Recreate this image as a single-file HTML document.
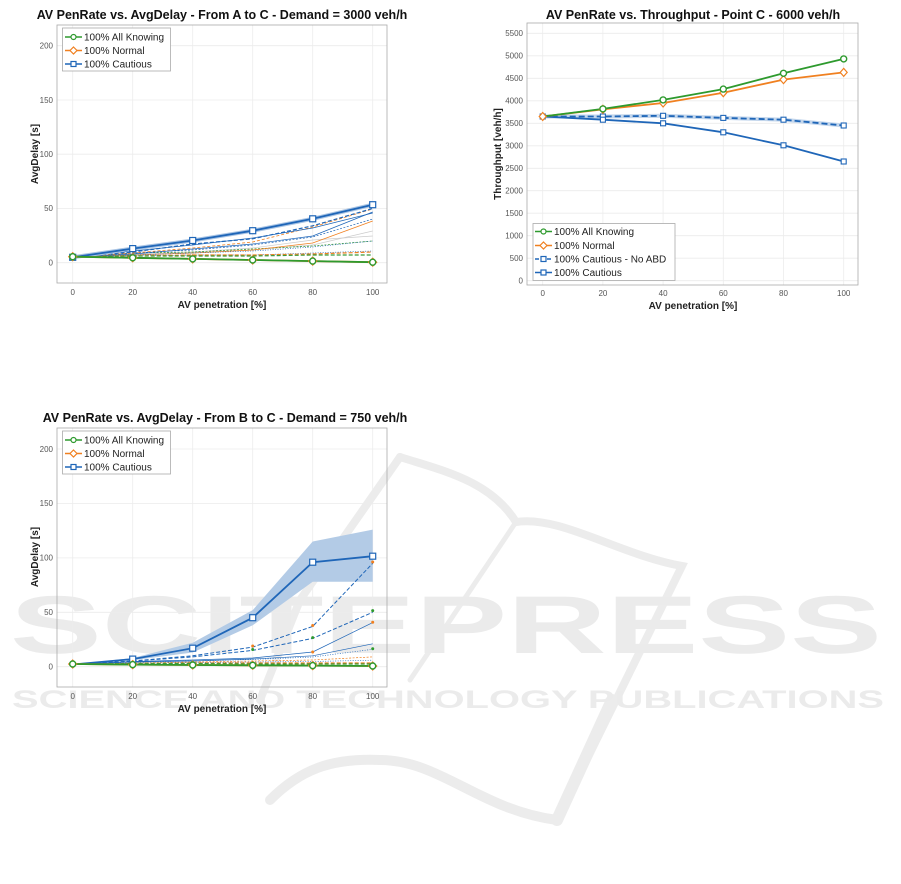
<!DOCTYPE html>
<html><head><meta charset="utf-8"><style>
html,body{margin:0;padding:0;background:#fff;width:901px;height:884px;overflow:hidden}
svg{display:block;font-family:"Liberation Sans",Arial,sans-serif}
.t{font-size:12.5px;font-weight:bold;fill:#111}
.tk{font-size:8px;fill:#555}
.al{font-size:10px;font-weight:bold;fill:#222}
.lg{font-size:10px;fill:#222}
.g{stroke:#ececec;stroke-width:0.8}
.wm{font-family:"Liberation Sans",sans-serif;font-weight:bold}
</style></head><body>
<svg width="901" height="884" viewBox="0 0 901 884">
<g fill="none" stroke="#ececec" stroke-linecap="round">
<path d="M400 457 C440 470 490 480 516 522 C560 515 620 555 682 566 L557 820" stroke-width="8"/>
<path d="M516 522 L410 680" stroke-width="5"/>
<path d="M400 457 L300 600 L260 700" stroke-width="8"/>
<path d="M557 820 C480 810 440 760 380 760 C330 758 300 770 270 800" stroke-width="10"/>
<path d="M612 700 L557 820" stroke-width="12"/>
</g>
<g fill="#ebebeb" class="wm">
<text class="wm" x="10" y="653" font-size="82" textLength="872" lengthAdjust="spacingAndGlyphs">SCITEPRESS</text>
<text class="wm" x="12" y="708" font-size="25" textLength="872" lengthAdjust="spacingAndGlyphs">SCIENCE AND TECHNOLOGY PUBLICATIONS</text>
</g>

<text class="t" x="222" y="19" text-anchor="middle">AV PenRate vs. AvgDelay - From A to C - Demand = 3000 veh/h</text>
<g class="g">
<line x1="72.7" y1="25" x2="72.7" y2="283"/><line x1="132.7" y1="25" x2="132.7" y2="283"/><line x1="192.7" y1="25" x2="192.7" y2="283"/><line x1="252.7" y1="25" x2="252.7" y2="283"/><line x1="312.7" y1="25" x2="312.7" y2="283"/><line x1="372.7" y1="25" x2="372.7" y2="283"/>
<line x1="57" y1="262.7" x2="387" y2="262.7"/><line x1="57" y1="208.4" x2="387" y2="208.4"/><line x1="57" y1="154.2" x2="387" y2="154.2"/><line x1="57" y1="100" x2="387" y2="100"/><line x1="57" y1="45.7" x2="387" y2="45.7"/>
</g>
<rect x="57" y="25" width="330" height="258" fill="none" stroke="#aaa" stroke-width="0.8"/>
<g class="tk" text-anchor="end"><text x="53" y="265.5">0</text><text x="53" y="211.2">50</text><text x="53" y="157">100</text><text x="53" y="102.8">150</text><text x="53" y="48.5">200</text></g>
<g class="tk" text-anchor="middle"><text x="72.7" y="295">0</text><text x="132.7" y="295">20</text><text x="192.7" y="295">40</text><text x="252.7" y="295">60</text><text x="312.7" y="295">80</text><text x="372.7" y="295">100</text></g>
<text class="al" x="222" y="308" text-anchor="middle">AV penetration [%]</text>
<text class="al" x="38" y="154" text-anchor="middle" transform="rotate(-90 38 154)">AvgDelay [s]</text>
<polyline points="72.7,257 132.7,254 192.7,252 252.7,248 312.7,240 372.7,236" fill="none" stroke="#ccc" stroke-width="0.7"/>
<polyline points="72.7,257 132.7,255 192.7,253 252.7,250 312.7,245 372.7,231" fill="none" stroke="#ccc" stroke-width="0.7"/>
<polyline points="72.7,257 132.7,253 192.7,252 252.7,249 312.7,246 372.7,241" fill="none" stroke="#3a9a3a" stroke-width="0.8" stroke-dasharray="2 1.5"/>
<polyline points="72.7,257 132.7,255 192.7,253 252.7,250 312.7,243 372.7,221" fill="none" stroke="#f08020" stroke-width="0.8"/>
<polyline points="72.7,257 132.7,254 192.7,249 252.7,244 312.7,236 372.7,212" fill="none" stroke="#1f66b8" stroke-width="0.7"/>
<polyline points="72.7,257 132.7,253 192.7,250 252.7,245 312.7,237 372.7,219" fill="none" stroke="#1f66b8" stroke-width="0.7" stroke-dasharray="2 1.5"/>
<polyline points="72.7,257 132.7,255 192.7,253 252.7,251 312.7,247 372.7,241" fill="none" stroke="#1f66b8" stroke-width="0.7" stroke-dasharray="1 1.5"/>
<polyline points="72.7,257 132.7,256 192.7,255 252.7,255 312.7,253 372.7,251" fill="none" stroke="#1f66b8" stroke-width="0.7" stroke-dasharray="1 1.5"/>
<polyline points="72.7,257 132.7,256 192.7,255 252.7,255 312.7,254 372.7,252" fill="none" stroke="#f08020" stroke-width="1.2" stroke-dasharray="4 2"/>
<polyline points="72.7,257 132.7,256 192.7,256 252.7,256 312.7,255 372.7,255" fill="none" stroke="#3a9a3a" stroke-width="1.2" stroke-dasharray="4 2"/>
<polyline points="72.7,257 132.7,253 192.7,248 252.7,242 312.7,227 372.7,209" fill="none" stroke="#f08020" stroke-width="0.8" stroke-dasharray="3 2"/>
<polyline points="72.7,257 132.7,252 192.7,244 252.7,238.8 312.7,225.8 372.7,208.5" fill="none" stroke="#1f66b8" stroke-width="1.2" stroke-dasharray="4 2"/>
<polyline points="72.7,257 132.7,251 192.7,245 252.7,238 312.7,228 372.7,213" fill="none" stroke="#1f66b8" stroke-width="0.7"/>
<polyline points="72.7,257.3 132.7,248.6 192.7,240.5 252.7,230.7 312.7,218.8 372.7,204.7" fill="none" stroke="#a9c4e4" stroke-width="4"/>
<polyline points="72.7,257.3 132.7,248.6 192.7,240.5 252.7,230.7 312.7,218.8 372.7,204.7" fill="none" stroke="#1f66b8" stroke-width="1.8"/>
<polyline points="72.7,256.7 132.7,257.8 192.7,258.9 252.7,260 312.7,261.1 372.7,262.2" fill="none" stroke="#f08020" stroke-width="1.8"/>
<polyline points="72.7,256.7 132.7,257.8 192.7,258.9 252.7,260 312.7,261.1 372.7,262.2" fill="none" stroke="#2e9a2e" stroke-width="1.8"/>
<g fill="#fff" stroke="#1f66b8" stroke-width="1.2"><rect x="69.7" y="254.3" width="6" height="6"/><rect x="129.7" y="245.6" width="6" height="6"/><rect x="189.7" y="237.5" width="6" height="6"/><rect x="249.7" y="227.7" width="6" height="6"/><rect x="309.7" y="215.8" width="6" height="6"/><rect x="369.7" y="201.7" width="6" height="6"/></g>
<g fill="#fff" stroke="#f08020" stroke-width="1.2"><path d="M72.7 252.7l4 4-4 4-4-4z"/><path d="M132.7 253.8l4 4-4 4-4-4z"/><path d="M192.7 254.9l4 4-4 4-4-4z"/><path d="M252.7 256l4 4-4 4-4-4z"/><path d="M312.7 257.1l4 4-4 4-4-4z"/><path d="M372.7 258.2l4 4-4 4-4-4z"/></g>
<g fill="#fff" stroke="#2e9a2e" stroke-width="1.4"><circle cx="72.7" cy="256.7" r="3"/><circle cx="132.7" cy="257.8" r="3"/><circle cx="192.7" cy="258.9" r="3"/><circle cx="252.7" cy="260" r="3"/><circle cx="312.7" cy="261.1" r="3"/><circle cx="372.7" cy="262.2" r="3"/></g>
<rect x="62.5" y="28" width="108" height="43" fill="#fff" stroke="#aaa" stroke-width="0.8"/>
<line x1="65" y1="37" x2="82" y2="37" stroke="#2e9a2e" stroke-width="1.4"/><circle cx="73.5" cy="37" r="2.5" fill="#fff" stroke="#2e9a2e" stroke-width="1.2"/>
<line x1="65" y1="50.5" x2="82" y2="50.5" stroke="#f08020" stroke-width="1.4"/><path d="M73.5 47l3.5 3.5-3.5 3.5-3.5-3.5z" fill="#fff" stroke="#f08020" stroke-width="1.2"/>
<line x1="65" y1="64" x2="82" y2="64" stroke="#1f66b8" stroke-width="1.4"/><rect x="71" y="61.5" width="5" height="5" fill="#fff" stroke="#1f66b8" stroke-width="1.2"/>
<text class="lg" x="84" y="40.5">100% All Knowing</text><text class="lg" x="84" y="54">100% Normal</text><text class="lg" x="84" y="67.5">100% Cautious</text>

<text class="t" x="693" y="19" text-anchor="middle">AV PenRate vs. Throughput - Point C - 6000 veh/h</text>
<g class="g">
<line x1="542.7" y1="23" x2="542.7" y2="285"/><line x1="602.9" y1="23" x2="602.9" y2="285"/><line x1="663.1" y1="23" x2="663.1" y2="285"/><line x1="723.3" y1="23" x2="723.3" y2="285"/><line x1="783.5" y1="23" x2="783.5" y2="285"/><line x1="843.7" y1="23" x2="843.7" y2="285"/>
<line x1="527" y1="280.7" x2="858" y2="280.7"/><line x1="527" y1="258.2" x2="858" y2="258.2"/><line x1="527" y1="235.7" x2="858" y2="235.7"/><line x1="527" y1="213.2" x2="858" y2="213.2"/><line x1="527" y1="190.7" x2="858" y2="190.7"/><line x1="527" y1="168.3" x2="858" y2="168.3"/><line x1="527" y1="145.8" x2="858" y2="145.8"/><line x1="527" y1="123.3" x2="858" y2="123.3"/><line x1="527" y1="100.8" x2="858" y2="100.8"/><line x1="527" y1="78.3" x2="858" y2="78.3"/><line x1="527" y1="55.8" x2="858" y2="55.8"/><line x1="527" y1="33.3" x2="858" y2="33.3"/>
</g>
<rect x="527" y="23" width="331" height="262" fill="none" stroke="#aaa" stroke-width="0.8"/>
<g class="tk" text-anchor="end"><text x="523" y="283.5">0</text><text x="523" y="261">500</text><text x="523" y="238.5">1000</text><text x="523" y="216">1500</text><text x="523" y="193.5">2000</text><text x="523" y="171.1">2500</text><text x="523" y="148.6">3000</text><text x="523" y="126.1">3500</text><text x="523" y="103.6">4000</text><text x="523" y="81.1">4500</text><text x="523" y="58.6">5000</text><text x="523" y="36.1">5500</text></g>
<g class="tk" text-anchor="middle"><text x="542.7" y="296">0</text><text x="602.9" y="296">20</text><text x="663.1" y="296">40</text><text x="723.3" y="296">60</text><text x="783.5" y="296">80</text><text x="843.7" y="296">100</text></g>
<text class="al" x="693" y="309" text-anchor="middle">AV penetration [%]</text>
<text class="al" x="501" y="154" text-anchor="middle" transform="rotate(-90 501 154)">Throughput [veh/h]</text>
<polyline points="542.7,116.5 602.9,116.5 663.1,115.8 723.3,117.9 783.5,119.7 843.7,125.5" fill="none" stroke="#c3d6ec" stroke-width="4"/>
<polyline points="542.7,116.5 602.9,116.5 663.1,115.8 723.3,117.9 783.5,119.7 843.7,125.5" fill="none" stroke="#1f66b8" stroke-width="1.8" stroke-dasharray="6 3"/>
<polyline points="542.7,116.5 602.9,119.7 663.1,123.3 723.3,132.3 783.5,145.3 843.7,161.5" fill="none" stroke="#1f66b8" stroke-width="1.8"/>
<polyline points="542.7,116.5 602.9,109.3 663.1,103 723.3,92.7 783.5,79.6 843.7,72.4" fill="none" stroke="#f08020" stroke-width="1.8"/>
<polyline points="542.7,116.5 602.9,108.9 663.1,99.9 723.3,89.1 783.5,73.3 843.7,58.9" fill="none" stroke="#2e9a2e" stroke-width="1.8"/>
<g fill="#fff" stroke="#1f66b8" stroke-width="1.1"><rect x="540.2" y="114" width="5" height="5"/><rect x="600.4" y="114" width="5" height="5"/><rect x="660.6" y="113.3" width="5" height="5"/><rect x="720.8" y="115.4" width="5" height="5"/><rect x="781" y="117.2" width="5" height="5"/><rect x="841.2" y="123" width="5" height="5"/>
<rect x="600.4" y="117.2" width="5" height="5"/><rect x="660.6" y="120.8" width="5" height="5"/><rect x="720.8" y="129.8" width="5" height="5"/><rect x="781" y="142.8" width="5" height="5"/><rect x="841.2" y="159" width="5" height="5"/></g>
<g fill="#fff" stroke="#f08020" stroke-width="1.2"><path d="M542.7 112.5l3.5 4-3.5 4-3.5-4z"/><path d="M602.9 105.3l3.5 4-3.5 4-3.5-4z"/><path d="M663.1 99l3.5 4-3.5 4-3.5-4z"/><path d="M723.3 88.7l3.5 4-3.5 4-3.5-4z"/><path d="M783.5 75.6l3.5 4-3.5 4-3.5-4z"/><path d="M843.7 68.4l3.5 4-3.5 4-3.5-4z"/></g>
<g fill="#fff" stroke="#2e9a2e" stroke-width="1.4"><circle cx="602.9" cy="108.9" r="3"/><circle cx="663.1" cy="99.9" r="3"/><circle cx="723.3" cy="89.1" r="3"/><circle cx="783.5" cy="73.3" r="3"/><circle cx="843.7" cy="58.9" r="3"/></g>
<rect x="533" y="223.5" width="142" height="57" fill="#fff" stroke="#aaa" stroke-width="0.8"/>
<line x1="535" y1="231.5" x2="552" y2="231.5" stroke="#2e9a2e" stroke-width="1.4"/><circle cx="543.5" cy="231.5" r="2.5" fill="#fff" stroke="#2e9a2e" stroke-width="1.2"/>
<line x1="535" y1="245.5" x2="552" y2="245.5" stroke="#f08020" stroke-width="1.4"/><path d="M543.5 242l3.5 3.5-3.5 3.5-3.5-3.5z" fill="#fff" stroke="#f08020" stroke-width="1.2"/>
<line x1="535" y1="259" x2="552" y2="259" stroke="#1f66b8" stroke-width="1.4" stroke-dasharray="4 2"/><rect x="541" y="256.5" width="5" height="5" fill="#fff" stroke="#1f66b8" stroke-width="1.2"/>
<line x1="535" y1="272.5" x2="552" y2="272.5" stroke="#1f66b8" stroke-width="1.4"/><rect x="541" y="270" width="5" height="5" fill="#fff" stroke="#1f66b8" stroke-width="1.2"/>
<text class="lg" x="554" y="235">100% All Knowing</text><text class="lg" x="554" y="249">100% Normal</text><text class="lg" x="554" y="262.5">100% Cautious - No ABD</text><text class="lg" x="554" y="276">100% Cautious</text>

<text class="t" x="225" y="422" text-anchor="middle">AV PenRate vs. AvgDelay - From B to C - Demand = 750 veh/h</text>
<g class="g">
<line x1="72.7" y1="428" x2="72.7" y2="687"/><line x1="132.7" y1="428" x2="132.7" y2="687"/><line x1="192.7" y1="428" x2="192.7" y2="687"/><line x1="252.7" y1="428" x2="252.7" y2="687"/><line x1="312.7" y1="428" x2="312.7" y2="687"/><line x1="372.7" y1="428" x2="372.7" y2="687"/>
<line x1="57" y1="666.7" x2="387" y2="666.7"/><line x1="57" y1="612.3" x2="387" y2="612.3"/><line x1="57" y1="557.9" x2="387" y2="557.9"/><line x1="57" y1="503.4" x2="387" y2="503.4"/><line x1="57" y1="449" x2="387" y2="449"/>
</g>
<rect x="57" y="428" width="330" height="259" fill="none" stroke="#aaa" stroke-width="0.8"/>
<g class="tk" text-anchor="end"><text x="53" y="669.5">0</text><text x="53" y="615.1">50</text><text x="53" y="560.7">100</text><text x="53" y="506.2">150</text><text x="53" y="451.8">200</text></g>
<g class="tk" text-anchor="middle"><text x="72.7" y="699">0</text><text x="132.7" y="699">20</text><text x="192.7" y="699">40</text><text x="252.7" y="699">60</text><text x="312.7" y="699">80</text><text x="372.7" y="699">100</text></g>
<text class="al" x="222" y="712" text-anchor="middle">AV penetration [%]</text>
<text class="al" x="38" y="557" text-anchor="middle" transform="rotate(-90 38 557)">AvgDelay [s]</text>
<polygon points="72.7,664.5 132.7,658 192.7,642.7 252.7,610.1 312.7,541.5 372.7,529.6 372.7,581.8 312.7,581.8 252.7,625.3 192.7,652.5 132.7,660.2 72.7,664.5" fill="#b3cbe6"/>
<polyline points="72.7,664.5 132.7,661 192.7,655.8 252.7,647.1 312.7,626.4 372.7,563.3" fill="none" stroke="#1f66b8" stroke-width="1" stroke-dasharray="4 2"/>
<polyline points="72.7,664.5 132.7,661 192.7,656.9 252.7,650.4 312.7,638.4 372.7,612.3" fill="none" stroke="#1f66b8" stroke-width="1" stroke-dasharray="4 2"/>
<polyline points="72.7,664.5 132.7,661.5 192.7,660 252.7,658 312.7,652 372.7,622.6" fill="none" stroke="#1f66b8" stroke-width="0.7"/>
<polyline points="72.7,664.5 132.7,662 192.7,661 252.7,659 312.7,655.8 372.7,643.8" fill="none" stroke="#1f66b8" stroke-width="0.7"/>
<polyline points="72.7,664.5 132.7,662 192.7,661 252.7,659.5 312.7,657 372.7,649.3" fill="none" stroke="#1f66b8" stroke-width="0.7" stroke-dasharray="1 1.5"/>
<polyline points="72.7,664.5 132.7,663 192.7,662 252.7,661 312.7,660 372.7,656.9" fill="none" stroke="#f08020" stroke-width="0.7" stroke-dasharray="2 1.5"/>
<polyline points="72.7,664.5 132.7,663 192.7,662.5 252.7,662 312.7,661.5 372.7,660.2" fill="none" stroke="#1f66b8" stroke-width="0.7" stroke-dasharray="1 1.5"/>
<polyline points="72.7,664.5 132.7,663.5 192.7,663 252.7,663 312.7,663 372.7,663" fill="none" stroke="#f08020" stroke-width="1.2" stroke-dasharray="4 2"/>
<polyline points="72.7,664.5 132.7,663.5 192.7,663.5 252.7,664 312.7,664 372.7,664" fill="none" stroke="#3a9a3a" stroke-width="1.2" stroke-dasharray="4 2"/>
<g fill="#f08020"><circle cx="372.7" cy="562" r="1.5"/><circle cx="312.7" cy="625.5" r="1.5"/><circle cx="372.7" cy="622.3" r="1.5"/><circle cx="252.7" cy="646" r="1.5"/><circle cx="312.7" cy="652" r="1.5"/></g>
<g fill="#2e9a2e"><circle cx="372.7" cy="610.6" r="1.5"/><circle cx="312.7" cy="637.6" r="1.5"/><circle cx="372.7" cy="648.7" r="1.5"/><circle cx="252.7" cy="649.5" r="1.5"/></g>
<polyline points="72.7,664.5 132.7,659.1 192.7,648.2 252.7,617.7 312.7,562.2 372.7,556.2" fill="none" stroke="#1f66b8" stroke-width="1.8"/>
<polyline points="72.7,664 132.7,664.6 192.7,665 252.7,665.3 312.7,665.6 372.7,666" fill="none" stroke="#f08020" stroke-width="1.8"/>
<polyline points="72.7,664 132.7,664.6 192.7,665 252.7,665.3 312.7,665.6 372.7,666" fill="none" stroke="#2e9a2e" stroke-width="1.8"/>
<g fill="#fff" stroke="#1f66b8" stroke-width="1.2"><rect x="129.7" y="656.1" width="6" height="6"/><rect x="189.7" y="645.2" width="6" height="6"/><rect x="249.7" y="614.7" width="6" height="6"/><rect x="309.7" y="559.2" width="6" height="6"/><rect x="369.7" y="553.2" width="6" height="6"/></g>
<g fill="#fff" stroke="#f08020" stroke-width="1.2"><path d="M72.7 660l4 4-4 4-4-4z"/><path d="M132.7 660.6l4 4-4 4-4-4z"/><path d="M192.7 661l4 4-4 4-4-4z"/><path d="M252.7 661.3l4 4-4 4-4-4z"/><path d="M312.7 661.6l4 4-4 4-4-4z"/><path d="M372.7 662l4 4-4 4-4-4z"/></g>
<g fill="#fff" stroke="#2e9a2e" stroke-width="1.4"><circle cx="72.7" cy="664" r="3"/><circle cx="132.7" cy="664.6" r="3"/><circle cx="192.7" cy="665" r="3"/><circle cx="252.7" cy="665.3" r="3"/><circle cx="312.7" cy="665.6" r="3"/><circle cx="372.7" cy="666" r="3"/></g>
<rect x="62.5" y="431" width="108" height="43" fill="#fff" stroke="#aaa" stroke-width="0.8"/>
<line x1="65" y1="440" x2="82" y2="440" stroke="#2e9a2e" stroke-width="1.4"/><circle cx="73.5" cy="440" r="2.5" fill="#fff" stroke="#2e9a2e" stroke-width="1.2"/>
<line x1="65" y1="453.5" x2="82" y2="453.5" stroke="#f08020" stroke-width="1.4"/><path d="M73.5 450l3.5 3.5-3.5 3.5-3.5-3.5z" fill="#fff" stroke="#f08020" stroke-width="1.2"/>
<line x1="65" y1="467" x2="82" y2="467" stroke="#1f66b8" stroke-width="1.4"/><rect x="71" y="464.5" width="5" height="5" fill="#fff" stroke="#1f66b8" stroke-width="1.2"/>
<text class="lg" x="84" y="443.5">100% All Knowing</text><text class="lg" x="84" y="457">100% Normal</text><text class="lg" x="84" y="470.5">100% Cautious</text>
</svg>
</body></html>
